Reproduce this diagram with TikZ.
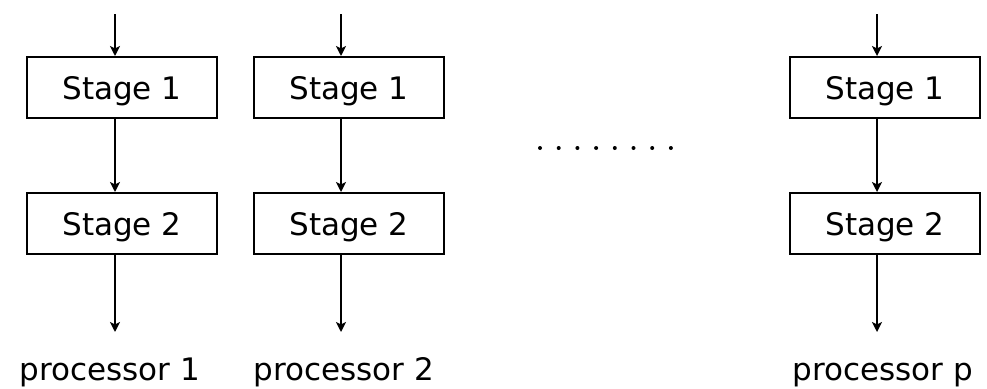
\documentclass[tikz,border=0pt]{standalone}
\usepackage{fontspec}
\setmainfont{DejaVu Sans}
\usetikzlibrary{arrows.meta}
\begin{document}
\begin{tikzpicture}[x=1pt,y=-1pt,
  stagebox/.style={draw,line width=2pt,minimum width=190pt,minimum height=61pt,inner sep=0pt,
    font=\fontsize{31}{36}\selectfont,text height=23pt,text depth=0pt},
  proclabel/.style={anchor=base,font=\fontsize{31}{36}\selectfont,inner sep=0pt},
  flow/.style={line width=2pt,-{Stealth[length=10pt,width=10pt,inset=2.5pt]}},
  dotmark/.style={fill=black,circle,inner sep=0pt,minimum size=4pt}]
\useasboundingbox (0,0) rectangle (987,388);
% column 1
\node[stagebox] (a1) at (122,87.5) {Stage 1};
\node[stagebox] (a2) at (122,223.5) {Stage 2};
\coordinate (at) at (115,14);
\coordinate (ab) at (115,332);
\node[proclabel] (al) at (110,380) {processor 1};
% column 2
\node[stagebox] (b1) at (349,87.5) {Stage 1};
\node[stagebox] (b2) at (349,223.5) {Stage 2};
\coordinate (bt) at (341,14);
\coordinate (bb) at (341,332);
\node[proclabel] (bl) at (344,380) {processor 2};
% column p
\node[stagebox] (c1) at (885,87.5) {Stage 1};
\node[stagebox] (c2) at (885,223.5) {Stage 2};
\coordinate (ct) at (877,14);
\coordinate (cb) at (877,332);
\node[proclabel] (cl) at (883,380) {processor p};
% arrows
\foreach \t/\u/\v/\b in {at/a1/a2/ab, bt/b1/b2/bb, ct/c1/c2/cb}{
  \draw[flow] (\t) -- (\t |- \u.north);
  \draw[flow] (\t |- \u.south) -- (\t |- \v.north);
  \draw[flow] (\t |- \v.south) -- (\b);
}
% dots
\foreach \i in {0,...,7}{
  \node[dotmark] (d\i) at (540+\i*18.7,148) {};
}
\end{tikzpicture}
\end{document}
